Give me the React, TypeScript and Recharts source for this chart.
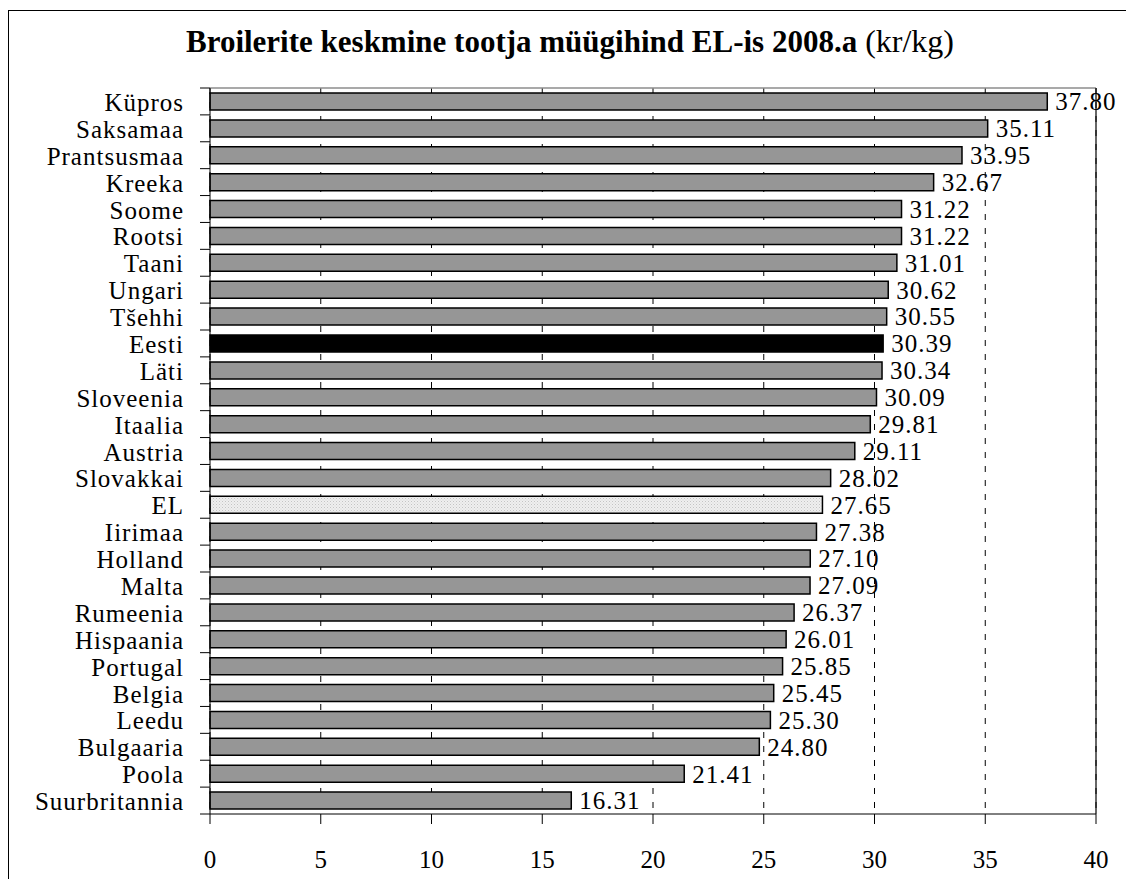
import React from 'react';
import { BarChart, Bar, XAxis, YAxis, CartesianGrid, Cell, LabelList } from 'recharts';

const countries = ['Küpros','Saksamaa','Prantsusmaa','Kreeka','Soome','Rootsi','Taani','Ungari','Tšehhi','Eesti','Läti','Sloveenia','Itaalia','Austria','Slovakkai','EL','Iirimaa','Holland','Malta','Rumeenia','Hispaania','Portugal','Belgia','Leedu','Bulgaaria','Poola','Suurbritannia'];
const prices = [37.80,35.11,33.95,32.67,31.22,31.22,31.01,30.62,30.55,30.39,30.34,30.09,29.81,29.11,28.02,27.65,27.38,27.10,27.09,26.37,26.01,25.85,25.45,25.30,24.80,21.41,16.31];
const xTicks = [0,5,10,15,20,25,30,35,40];

const data = countries.map((name, i) => ({ name, value: prices[i] }));

const FONT = 'Liberation Serif';
const TICK_SIZE = 10;
const TICK_MARGIN = 16;

const fillFor = (name: string) => name === 'Eesti' ? '#000000' : name === 'EL' ? 'url(#elDots)' : '#969696';

const YTick = (props: any) => {
  const { x, y, payload, index } = props;
  const off = payload && payload.offset ? payload.offset : 13.45;
  const axisX = x + TICK_SIZE + TICK_MARGIN;
  return (
    <g>
      <line x1={axisX - TICK_SIZE} x2={axisX} y1={y - off} y2={y - off} stroke="#000" strokeWidth={1} />
      {index === countries.length - 1 && (
        <line x1={axisX - TICK_SIZE} x2={axisX} y1={y + off} y2={y + off} stroke="#000" strokeWidth={1} />
      )}
      <text x={x} y={y} dy="0.38em" textAnchor="end" style={{ fontFamily: FONT }} fontSize={25} letterSpacing={1} fill="#000">
        {payload.value}
      </text>
    </g>
  );
};

export default function App() {
  return (
    <div style={{ position: 'fixed', left: 0, top: 0, width: 1126, height: 879, overflow: 'hidden', background: '#fff', fontFamily: FONT }}>
      <div style={{ position: 'absolute', left: 8, top: 10, width: 1300, height: 1000, borderLeft: '1px solid #000', borderTop: '1px solid #000' }} />
      <svg width={1126} height={80} style={{ position: 'absolute', left: 0, top: 0 }}>
        <text x={570} y={52} textAnchor="middle" style={{ fontFamily: FONT }} fill="#000">
          <tspan fontWeight="bold" fontSize={31}>Broilerite keskmine tootja müügihind EL-is 2008.a</tspan>
          <tspan fontWeight="normal" fontSize={32}> (kr/kg)</tspan>
        </text>
      </svg>
      <div style={{ position: 'absolute', left: 0, top: 0 }}>
        <BarChart
          width={1126}
          height={879}
          data={data}
          layout="vertical"
          margin={{ top: 87, right: 29, bottom: 10, left: 0 }}
          style={{ fontFamily: FONT }}
        >
          <defs>
            <pattern id="elDots" width="3" height="3" patternUnits="userSpaceOnUse">
              <rect width="3" height="3" fill="#efefef" />
              <rect x="0" y="0" width="1" height="1" fill="#c4c4c4" />
              <rect x="1.5" y="1.5" width="1" height="1" fill="#d4d4d4" />
            </pattern>
          </defs>
          <CartesianGrid horizontal={false} vertical={true} stroke="#000" strokeDasharray="6 8" />
          <XAxis
            type="number"
            domain={[0, 40]}
            ticks={xTicks}
            interval={0}
            tickSize={10}
            tickMargin={26}
            axisLine={{ stroke: '#000' }}
            tickLine={{ stroke: '#000' }}
            tick={{ fill: '#000', fontSize: 25, fontFamily: FONT }}
            height={55}
          />
          <XAxis
            xAxisId="top"
            orientation="top"
            type="number"
            domain={[0, 40]}
            ticks={xTicks}
            tick={false}
            tickLine={false}
            axisLine={{ stroke: '#8c8c8c', strokeWidth: 1.5 }}
            height={1}
          />
          <YAxis
            type="category"
            dataKey="name"
            width={210}
            interval={0}
            tickSize={TICK_SIZE}
            tickMargin={TICK_MARGIN}
            tickLine={false}
            axisLine={{ stroke: '#000' }}
            tick={<YTick />}
          />
          <YAxis
            yAxisId="right"
            orientation="right"
            type="category"
            dataKey="name"
            width={1}
            tick={false}
            tickLine={false}
            axisLine={{ stroke: '#000', strokeWidth: 1.2 }}
          />
          <Bar dataKey="value" barSize={17} stroke="#000" strokeWidth={1.5} isAnimationActive={false}>
            {data.map((d) => (
              <Cell key={d.name} fill={fillFor(d.name)} />
            ))}
            <LabelList
              dataKey="value"
              position="right"
              offset={8}
              formatter={(v: any) => Number(v).toFixed(2)}
              fill="#000"
              fontSize={25}
              fontFamily={FONT}
              letterSpacing={1}
            />
          </Bar>
        </BarChart>
      </div>
    </div>
  );
}
